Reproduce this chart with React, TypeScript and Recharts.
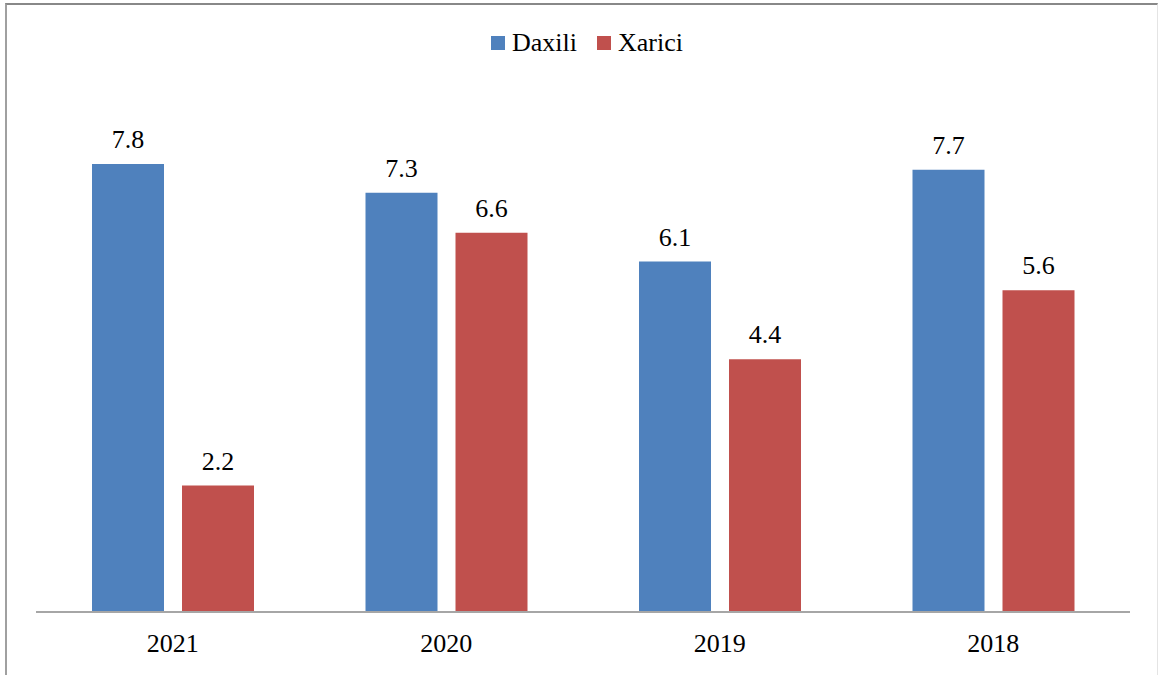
import { BarChart, Bar, XAxis, YAxis, LabelList } from 'recharts'

const years = ['2021', '2020', '2019', '2018']
const daxili = [7.8, 7.3, 6.1, 7.7]
const xarici = [2.2, 6.6, 4.4, 5.6]

const seriesNames = ['Daxili', 'Xarici']
const seriesColors = ['#4F81BD', '#C0504D']

const data = years.map((year, i) => ({ year, daxili: daxili[i], xarici: xarici[i] }))

const FONT = 'Liberation Serif'

const labelFmt = (v: any) => Number(v).toFixed(1)

export default function App() {
  return (
    <div
      style={{
        position: 'absolute',
        left: 0,
        top: 0,
        width: 1158,
        height: 675,
        background: '#fff',
        overflow: 'hidden',
      }}
    >
      {/* outer frame, bottom edge runs off the page */}
      <div
        style={{
          position: 'absolute',
          left: 5,
          top: 3,
          width: 1150,
          height: 720,
          borderTop: '2px solid #888',
          borderLeft: '2px solid #a0a0a0',
          borderRight: '1px solid #e4e4e4',
        }}
      />

      {seriesNames.map((name, i) => (
        <div
          key={name}
          style={{
            position: 'absolute',
            left: i ? 597 : 491,
            top: 30,
            height: 26,
            display: 'flex',
            alignItems: 'center',
            fontSize: 26,
            lineHeight: '26px',
            fontFamily: FONT,
            color: '#000',
          }}
        >
          <div style={{ width: 14, height: 14, background: seriesColors[i], marginRight: 7 }} />
          {name}
        </div>
      ))}

      <div style={{ position: 'absolute', left: 0, top: 0 }}>
        <BarChart
          width={1158}
          height={675}
          data={data}
          margin={{ top: 95, right: 28, left: 36, bottom: 0 }}
          barSize={72}
          barGap={18}
        >
          <XAxis
            dataKey="year"
            height={63}
            axisLine={{ stroke: '#a6a6a6', strokeWidth: 2 }}
            tickLine={false}
            tickSize={6}
            tickMargin={16}
            tick={{ fill: '#000', fontSize: 26, fontFamily: FONT }}
          />
          <YAxis hide domain={[0, 9]} />
          <Bar dataKey="daxili" name={seriesNames[0]} fill={seriesColors[0]} isAnimationActive={false}>
            <LabelList
              dataKey="daxili"
              position="top"
              offset={16}
              fill="#000"
              fontSize={26}
              fontFamily={FONT}
              formatter={labelFmt}
            />
          </Bar>
          <Bar dataKey="xarici" name={seriesNames[1]} fill={seriesColors[1]} isAnimationActive={false}>
            <LabelList
              dataKey="xarici"
              position="top"
              offset={16}
              fill="#000"
              fontSize={26}
              fontFamily={FONT}
              formatter={labelFmt}
            />
          </Bar>
        </BarChart>
      </div>
    </div>
  )
}
